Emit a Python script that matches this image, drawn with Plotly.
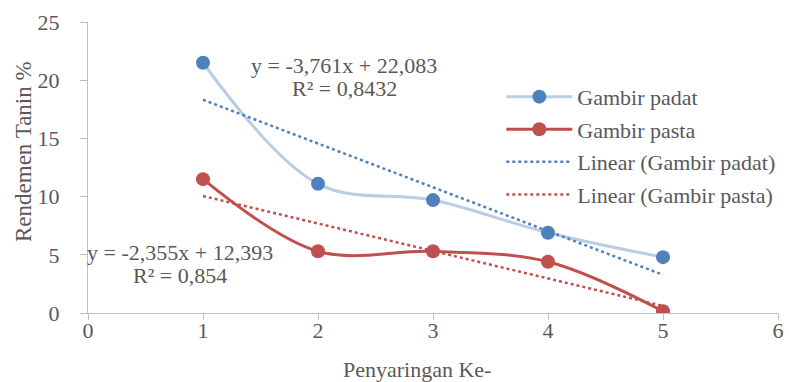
import numpy as np
import plotly.graph_objects as go

x_vals = [1, 2, 3, 4, 5]
padat = [21.5, 11.1, 9.7, 6.9, 4.8]
pasta = [11.5, 5.3, 5.3, 4.4, 0.15]
names = ["Gambir padat", "Gambir pasta", "Linear (Gambir padat)", "Linear (Gambir pasta)"]
eq_padat = ["y = -3,761x + 22,083", "R² = 0,8432"]
eq_pasta = ["y = -2,355x + 12,393", "R² = 0,854"]
x_title = "Penyaringan Ke-"
y_title = "Rendemen Tanin %"

BLUE = "#4f81bd"
LBLUE = "#b9cde5"
RED = "#c0504d"
FONT = "Liberation Serif"
GREY = "#595959"
AX = "#bfbfbf"

W, H = 789, 382
L, R, T, B = 88, 11, 22, 69
pw, ph = W - L - R, H - T - B
def px(xp):
    return (xp - L) / pw
def py(yp):
    return ((H - B) - yp) / ph

fig = go.Figure()
fig.add_trace(go.Scatter(x=x_vals, y=padat, name=names[0], mode="lines+markers",
                         line=dict(color=LBLUE, width=3, shape="spline", smoothing=1),
                         marker=dict(color=BLUE, size=14), legendgroup="a"))
fig.add_trace(go.Scatter(x=x_vals, y=pasta, name=names[1], mode="lines+markers",
                         line=dict(color=RED, width=3, shape="spline", smoothing=1),
                         marker=dict(color=RED, size=14), legendgroup="b"))
for ys, nm, col, grp in [(padat, names[2], BLUE, "c"), (pasta, names[3], RED, "d")]:
    m, b = np.polyfit(x_vals, ys, 1)
    fig.add_trace(go.Scatter(x=x_vals, y=[m * xx + b for xx in x_vals], name=nm, mode="lines",
                             line=dict(color=col, width=2.5, dash="dot"), legendgroup=grp))

tf = dict(family=FONT, size=22, color=GREY)
fig.add_annotation(x=2.23, y=21.3, xref="x", yref="y", text=eq_padat[0], showarrow=False, font=tf)
fig.add_annotation(x=2.23, y=19.3, xref="x", yref="y", text=eq_padat[1], showarrow=False, font=tf)
fig.add_annotation(x=0.8, y=5.2, xref="x", yref="y", text=eq_pasta[0], showarrow=False, font=tf)
fig.add_annotation(x=0.8, y=3.25, xref="x", yref="y", text=eq_pasta[1], showarrow=False, font=tf)
fig.add_annotation(x=px(417), y=py(369), xref="paper", yref="paper", xanchor="center", yanchor="middle",
                   text=x_title, showarrow=False, font=dict(family=FONT, size=22, color=GREY))
fig.add_annotation(x=px(23), y=py(152), xref="paper", yref="paper", xanchor="center", yanchor="middle",
                   text=y_title, showarrow=False, textangle=-90,
                   font=dict(family=FONT, size=23, color=GREY))

fig.update_layout(
    width=W, height=H,
    margin=dict(l=L, r=R, t=T, b=B, autoexpand=False),
    paper_bgcolor="white", plot_bgcolor="white",
    font=dict(family=FONT, size=22, color=GREY),
    showlegend=True,
    legend=dict(x=0.599, y=0.815, xanchor="left", yanchor="top", bgcolor="rgba(0,0,0,0)",
                font=dict(family=FONT, size=22, color=GREY), itemwidth=66,
                traceorder="grouped", tracegroupgap=1),
    xaxis=dict(range=[0, 6], dtick=1, showgrid=False, zeroline=False, showline=True,
               linecolor=AX, linewidth=1, ticks="outside", ticklen=6, tickcolor=AX,
               automargin=False, ticklabelstandoff=-8),
    yaxis=dict(range=[0, 25], dtick=5, showgrid=False, zeroline=False, showline=True,
               linecolor=AX, linewidth=1, ticks="outside", ticklen=7, tickcolor=AX,
               automargin=False, ticklabelstandoff=16),
)

fig.write_html("out.html", config={"displayModeBar": False},
               post_script="document.body.style.margin='0';document.documentElement.style.overflow='hidden';document.body.style.overflow='hidden';")
